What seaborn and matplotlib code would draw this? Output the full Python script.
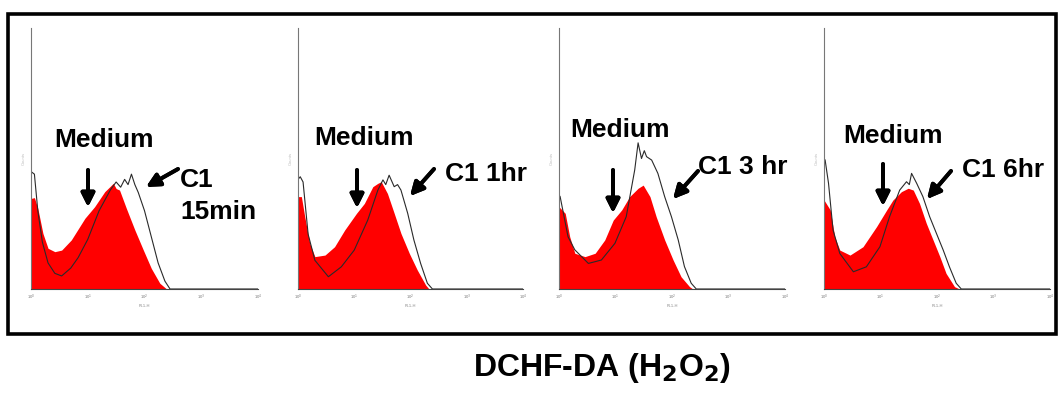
import numpy as np
import pandas as pd
import seaborn as sns
import matplotlib.pyplot as plt

sns.set_style('white')
plt.rcParams['font.family'] = ['Liberation Sans', 'DejaVu Sans']
plt.rcParams['text.color'] = 'black'

# log fluorescence (decades) and normalised counts
med_x_15min = [0, 0.06, 0.12, 0.21, 0.30, 0.42, 0.54, 0.71, 0.95, 1.12, 1.30, 1.38, 1.45, 1.50, 1.56, 1.68, 1.83, 1.98, 2.12, 2.27, 2.39]
med_y_15min = [0.347, 0.35, 0.309, 0.213, 0.156, 0.143, 0.149, 0.188, 0.271, 0.315, 0.373, 0.39, 0.405, 0.385, 0.379, 0.309, 0.226, 0.149, 0.079, 0.022, 0]
c1_x_15min = [0, 0.06, 0.12, 0.20, 0.30, 0.42, 0.54, 0.70, 0.83, 1.0, 1.2, 1.4, 1.5, 1.58, 1.65, 1.71, 1.77, 1.83, 1.89, 2.0, 2.12, 2.24, 2.36, 2.45, 4.0]
c1_y_15min = [0.45, 0.44, 0.30, 0.18, 0.10, 0.06, 0.05, 0.08, 0.12, 0.19, 0.30, 0.38, 0.41, 0.39, 0.42, 0.40, 0.44, 0.40, 0.37, 0.30, 0.20, 0.10, 0.03, 0, 0]

med_x_1hr = [0, 0.06, 0.12, 0.21, 0.30, 0.48, 0.65, 0.83, 1.04, 1.18, 1.33, 1.42, 1.48, 1.59, 1.71, 1.83, 1.98, 2.12, 2.27, 2.33]
med_y_1hr = [0.354, 0.354, 0.277, 0.175, 0.124, 0.130, 0.162, 0.226, 0.290, 0.328, 0.392, 0.405, 0.411, 0.366, 0.290, 0.213, 0.136, 0.073, 0.015, 0]
c1_x_1hr = [0, 0.04, 0.09, 0.18, 0.30, 0.54, 0.77, 1.0, 1.24, 1.42, 1.51, 1.56, 1.62, 1.71, 1.77, 1.83, 1.95, 2.06, 2.18, 2.30, 2.39, 4.0]
c1_y_1hr = [0.42, 0.43, 0.41, 0.21, 0.11, 0.047, 0.085, 0.149, 0.264, 0.379, 0.418, 0.40, 0.436, 0.392, 0.40, 0.379, 0.290, 0.188, 0.098, 0.022, 0, 0]

med_x_3hr = [0, 0.11, 0.19, 0.28, 0.46, 0.64, 0.81, 0.96, 1.11, 1.25, 1.40, 1.49, 1.61, 1.72, 1.87, 2.02, 2.16, 2.31, 2.37]
med_y_3hr = [0.315, 0.290, 0.200, 0.137, 0.124, 0.137, 0.188, 0.264, 0.303, 0.354, 0.386, 0.398, 0.354, 0.277, 0.188, 0.111, 0.047, 0.009, 0]
c1_x_3hr = [0, 0.02, 0.16, 0.28, 0.52, 0.75, 0.99, 1.19, 1.34, 1.40, 1.46, 1.51, 1.55, 1.64, 1.75, 1.87, 1.99, 2.11, 2.22, 2.34, 2.43, 4.0]
c1_y_3hr = [0.36, 0.354, 0.200, 0.150, 0.098, 0.111, 0.175, 0.277, 0.456, 0.56, 0.50, 0.53, 0.507, 0.494, 0.443, 0.354, 0.277, 0.188, 0.086, 0.022, 0, 0]

med_x_6hr = [0, 0.11, 0.19, 0.28, 0.46, 0.69, 0.93, 1.11, 1.22, 1.37, 1.49, 1.58, 1.69, 1.81, 1.93, 2.05, 2.16, 2.31, 2.40]
med_y_6hr = [0.341, 0.303, 0.200, 0.149, 0.130, 0.162, 0.239, 0.303, 0.341, 0.373, 0.386, 0.379, 0.328, 0.252, 0.188, 0.124, 0.060, 0.009, 0]
c1_x_6hr = [0, 0.02, 0.08, 0.16, 0.28, 0.52, 0.75, 0.99, 1.16, 1.34, 1.46, 1.51, 1.55, 1.64, 1.75, 1.87, 1.99, 2.11, 2.22, 2.34, 2.43, 4.0]
c1_y_6hr = [0.50, 0.494, 0.405, 0.226, 0.136, 0.066, 0.085, 0.162, 0.277, 0.379, 0.411, 0.40, 0.443, 0.405, 0.354, 0.277, 0.213, 0.149, 0.085, 0.022, 0, 0]

c1_labels = ['C1\n15min', 'C1 1hr', 'C1 3 hr', 'C1 6hr']
xtick_labels = ['10$^0$', '10$^1$', '10$^2$', '10$^3$', '10$^4$']

panels = [
    (med_x_15min, med_y_15min, c1_x_15min, c1_y_15min),
    (med_x_1hr, med_y_1hr, c1_x_1hr, c1_y_1hr),
    (med_x_3hr, med_y_3hr, c1_x_3hr, c1_y_3hr),
    (med_x_6hr, med_y_6hr, c1_x_6hr, c1_y_6hr),
]

W, H = 1059, 399
fig = plt.figure(figsize=(W / 100, H / 100), dpi=100)


def fx(x):
    return x / W


def fy(y):
    return 1 - y / H


# panel placement in pixels (left, right), shared top/baseline
ax_lr = [(31, 258), (298, 523), (559, 785), (824, 1050)]
top, base = 28, 289

# label placement in pixels
medium_pos = [(104, 140), (364, 138), (620, 130), (893, 136)]
medium_arrow = [((88, 170), (88, 207)), ((357, 170), (357, 208)), ((613, 170), (613, 213)), ((883, 164), (883, 206))]
c1_pos = [(180, 196), (445, 174), (698, 167), (962, 170)]
c1_arrow = [((178, 169), (146, 187)), ((434, 169), (410, 196)), ((698, 171), (673, 199)), ((951, 171), (927, 199))]

for i, (mx, my, cx, cy) in enumerate(panels):
    l, r = ax_lr[i]
    ax = fig.add_axes([fx(l), fy(base), fx(r - l), (base - top) / H])
    ax.fill_between(mx, my, color='#ff0000', lw=0)
    sns.lineplot(x=cx, y=cy, ax=ax, color='#2a2a2a', lw=0.8, sort=False)
    ax.set_xlim(0, 4)
    ax.set_ylim(0, 1)
    ax.set_xticks(range(5))
    ax.set_xticklabels(xtick_labels, fontsize=3, color='#777777')
    ax.set_yticks([0, 1])
    ax.set_yticklabels(['', ''])
    ax.tick_params(length=2, width=0.5, color='#777777', pad=1)
    ax.set_xlabel('FL1-H', fontsize=3, color='#888888', labelpad=1)
    ax.set_ylabel('Counts', fontsize=3, color='#bbbbbb', labelpad=1)
    for s in ['top', 'right']:
        ax.spines[s].set_visible(False)
    ax.spines['left'].set_color('#777777')
    ax.spines['bottom'].set_color('#444444')
    ax.spines['left'].set_linewidth(0.8)
    ax.spines['bottom'].set_linewidth(0.8)
    ax.patch.set_alpha(0)

    fig.text(fx(medium_pos[i][0]), fy(medium_pos[i][1]), 'Medium', ha='center', va='center',
             fontsize=19, fontweight='bold', color='black')
    fig.text(fx(c1_pos[i][0]), fy(c1_pos[i][1]), c1_labels[i], ha='left', va='center',
             fontsize=19, fontweight='bold', color='black', linespacing=1.4)
    for (x0, y0), (x1, y1) in [medium_arrow[i], c1_arrow[i]]:
        fig.add_artist(plt.annotate('', xy=(fx(x1), fy(y1)), xytext=(fx(x0), fy(y0)),
                                    xycoords='figure fraction', textcoords='figure fraction',
                                    arrowprops=dict(arrowstyle='-|>', color='black', lw=2.8,
                                                    mutation_scale=20, shrinkA=0, shrinkB=0)))

# outer black frame
fig.add_artist(plt.Rectangle((fx(8), fy(334)), fx(1056 - 8), (334 - 14) / H,
                             transform=fig.transFigure, fill=False, lw=2.6, ec='black'))

fig.text(fx(602), fy(368), 'DCHF-DA (H$_\\mathbf{2}$O$_\\mathbf{2}$)', ha='center', va='center',
         fontsize=23, fontweight='bold', color='black')

fig.savefig('out.png', dpi=100)
